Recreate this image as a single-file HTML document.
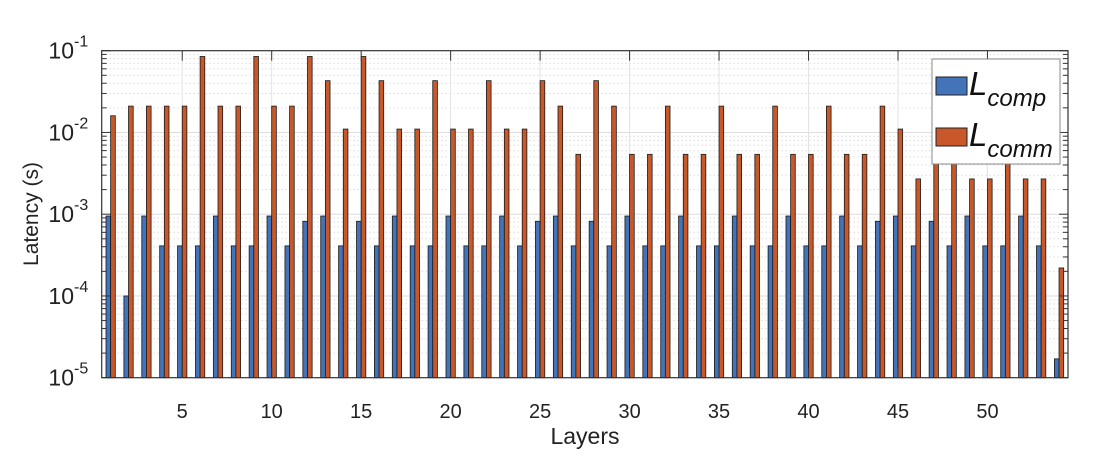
<!DOCTYPE html>
<html><head><meta charset="utf-8"><style>
body{margin:0;background:#fff;}
svg{display:block;font-family:"Liberation Sans",Arial,sans-serif;}
</style></head><body>
<svg id="chart" width="1096" height="458" viewBox="0 0 1096 458" xmlns="http://www.w3.org/2000/svg">
<g id="grid"></g>
<g id="bars"></g>
<g id="axes"></g>
<text x="585" y="444" font-size="23" text-anchor="middle" fill="#222">Layers</text>
<text transform="translate(38,214) rotate(-90)" font-size="21" text-anchor="middle" fill="#222">Latency (s)</text>
<g>
<rect x="932" y="59" width="128" height="105" fill="#fff" stroke="#888" stroke-width="1"/>
<rect x="936" y="77" width="31" height="18" fill="#4373b8" stroke="#222"/>
<text x="969" y="95" font-size="33" font-style="italic" fill="#111">L<tspan font-size="24" dy="11">comp</tspan></text>
<rect x="936" y="128" width="31" height="18" fill="#c8582a" stroke="#222"/>
<text x="969" y="146" font-size="33" font-style="italic" fill="#111">L<tspan font-size="24" dy="11">comm</tspan></text>
</g>
</svg>
<script>
const layers = Array.from({length:54},(_,i)=>i+1);
const compValues = [0.00095,0.0001,0.00095,0.00041,0.00041,0.00041,0.00095,0.00041,0.00041,0.00095,0.00041,0.00082,0.00095,0.00041,0.00082,0.00041,0.00095,0.00041,0.00041,0.00095,0.00041,0.00041,0.00095,0.00041,0.00082,0.00095,0.00041,0.00082,0.00041,0.00095,0.00041,0.00041,0.00095,0.00041,0.00041,0.00095,0.00041,0.00041,0.00095,0.00041,0.00041,0.00095,0.00041,0.00082,0.00095,0.00041,0.00082,0.00041,0.00095,0.00041,0.00041,0.00095,0.00041,0.000017];
const commValues = [0.016,0.021,0.021,0.021,0.021,0.085,0.021,0.021,0.085,0.021,0.021,0.085,0.043,0.011,0.085,0.043,0.011,0.011,0.043,0.011,0.011,0.043,0.011,0.011,0.043,0.021,0.0054,0.043,0.021,0.0054,0.0054,0.021,0.0054,0.0054,0.021,0.0054,0.0054,0.021,0.0054,0.0054,0.021,0.0054,0.0054,0.021,0.011,0.0027,0.0054,0.0054,0.0027,0.0027,0.0054,0.0027,0.0027,0.00022];
const xTicks = [5,10,15,20,25,30,35,40,45,50];
const yExps = [-5,-4,-3,-2,-1];

const L=101.7,R=1068,T=50.7,B=377.7;
const x = v => L + (v-0.5)/54*(R-L);
const y = v => B - (Math.log10(v)+5)/4*(B-T);
const NS="http://www.w3.org/2000/svg";
function mk(tag,attrs,parent){const e=document.createElementNS(NS,tag);for(const k in attrs)e.setAttribute(k,attrs[k]);parent.appendChild(e);return e;}
const grid=document.getElementById('grid'),bars=document.getElementById('bars'),axes=document.getElementById('axes');

for(const e of yExps){
  const yy=y(Math.pow(10,e));
  if(e>-5 && e<-1){const g=mk('line',{x1:L,x2:R,y1:yy,y2:yy,stroke:'#ddd','stroke-width':1},grid);
  
  }
  if(e<-1){for(let m=2;m<=9;m++){const ym=y(m*Math.pow(10,e));
    const g=mk('line',{x1:L,x2:R,y1:ym,y2:ym,stroke:'#ccc','stroke-width':1,'stroke-dasharray':'1,3'},grid);
    
    
    mk('line',{x1:L,x2:L+5,y1:ym,y2:ym,stroke:'#333'},axes);
    mk('line',{x1:R,x2:R-5,y1:ym,y2:ym,stroke:'#333'},axes);}}
  mk('line',{x1:L,x2:L+9,y1:yy,y2:yy,stroke:'#333'},axes);
  mk('line',{x1:R,x2:R-9,y1:yy,y2:yy,stroke:'#333'},axes);
  const t=mk('text',{x:74,y:yy+8,'font-size':23,'text-anchor':'end',fill:'#222'},axes);
  
  
  t.textContent='10';
  const s=mk('text',{x:74,y:yy-4,'font-size':16,fill:'#222'},axes);
  
  
  s.textContent=String(e);
}
for(const v of xTicks){
  const xx=x(v);
  const g=mk('line',{x1:xx,x2:xx,y1:T,y2:B,stroke:'#e2e2e2','stroke-width':1},grid);
  
  
  mk('line',{x1:xx,x2:xx,y1:T,y2:T+10,stroke:'#333'},axes);
  mk('line',{x1:xx,x2:xx,y1:B,y2:B-10,stroke:'#333'},axes);
  const t=mk('text',{x:xx,y:418,'font-size':20,'text-anchor':'middle',fill:'#222'},axes);
  
  
  t.textContent=String(v);
}
const bw=(R-L)/54*0.26;
layers.forEach((l,i)=>{
  const cx=x(l);
  const yc=y(compValues[i]);
  const b1=mk('rect',{x:cx-bw,y:yc,width:bw,height:B-yc,fill:'#4373b8',stroke:'#1a1a1a','stroke-width':0.8},bars);
  
  
  const yo=y(commValues[i]);
  const b2=mk('rect',{x:cx,y:yo,width:bw,height:B-yo,fill:'#c8582a',stroke:'#1a1a1a','stroke-width':0.8},bars);
  
  
});
const f=mk('rect',{x:L,y:T,width:R-L,height:B-T,fill:'none',stroke:'#333','stroke-width':1.2},axes);


</script>
</body></html>
